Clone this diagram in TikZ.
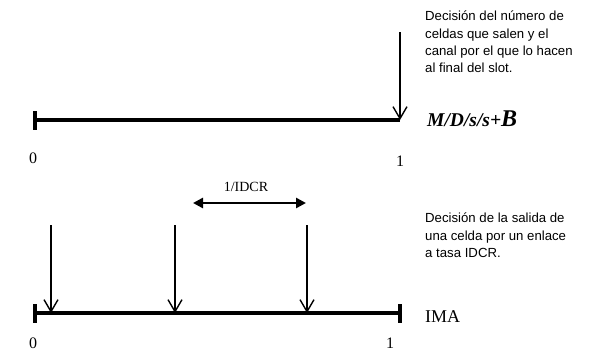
\documentclass[tikz,border=0pt]{standalone}
\usepackage{fontspec}
\setmainfont{Liberation Serif}
\newfontfamily\notefont{Liberation Sans}
\usetikzlibrary{arrows.meta}
\begin{document}
\begin{tikzpicture}[x=1pt,y=-1pt,
  axis/.style={line width=3.2pt},
  tickmark/.style={line width=3.2pt},
  drop/.style={line width=1.3pt,-{Straight Barb[length=12pt,width=14pt,line width=1.4pt]}},
  span/.style={line width=2.6pt,{Triangle[length=10pt,width=10pt]}-{Triangle[length=10pt,width=10pt]}},
  note/.style={font=\notefont\fontsize{13.2}{17.2}\selectfont,align=left,anchor=north west,inner sep=0pt},
  num/.style={font=\fontsize{16}{16}\selectfont,inner sep=0pt,anchor=base},
]
\useasboundingbox (0,0) rectangle (598,351);

% --- upper time line: M/D/s/s+B ---
\coordinate (t0) at (35,120);
\coordinate (t1) at (400,120);
\coordinate (ttop) at (400,32);
\draw[axis] (t0) -- (t1);
\draw[tickmark] ([yshift=-9.5pt]t0) -- ([yshift=9.5pt]t0);
\draw[drop] (ttop) -- (t1);

\node[note] (topnote) at (425,11)
  {Decisión del número de\\celdas que salen y el\\canal por el que lo hacen\\al final del slot.};
\node[anchor=base west,inner sep=0pt,font=\bfseries\itshape\fontsize{19.5}{21}\selectfont]
  (model) at (427,126) {M/D/s/s+{\fontsize{24}{25}\selectfont B}};
\node[num] (tzero) at (33,163) {0};
\node[num] (tone) at (400,166) {1};

% --- lower time line: IMA ---
\coordinate (b0) at (35,313);
\coordinate (b1) at (400,313);
\draw[axis] (b0) -- (b1);
\draw[tickmark] ([yshift=-9.5pt]b0) -- ([yshift=9.5pt]b0);
\draw[tickmark] ([yshift=-9.5pt]b1) -- ([yshift=9.5pt]b1);

\coordinate (d1top) at (51,225);  \coordinate (d1) at (51,313);
\coordinate (d2top) at (175,225); \coordinate (d2) at (175,313);
\coordinate (d3top) at (307,225); \coordinate (d3) at (307,313);
\draw[drop] (d1top) -- (d1);
\draw[drop] (d2top) -- (d2);
\draw[drop] (d3top) -- (d3);

% interval between two departures
\coordinate (sa) at (193,203);
\coordinate (sb) at (306,203);
\draw[span] (sa) -- (sb);
\node[anchor=base,inner sep=0pt,font=\fontsize{14}{14}\selectfont] (rate) at (246,191) {1/IDCR};

\node[note] (botnote) at (425,213)
  {Decisión de la salida de\\una celda por un enlace\\a tasa IDCR.};
\node[anchor=base west,inner sep=0pt,font=\fontsize{18}{18}\selectfont] (ima) at (425,322) {IMA};
\node[num] (bzero) at (33,348) {0};
\node[num] (bone) at (390,348) {1};
\end{tikzpicture}
\end{document}
